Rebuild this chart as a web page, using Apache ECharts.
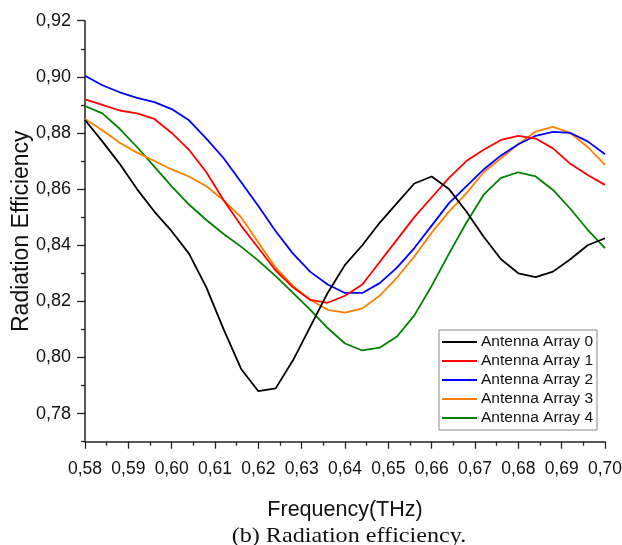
<!DOCTYPE html>
<html>
<head>
<meta charset="utf-8">
<script src="https://cdn.jsdelivr.net/npm/echarts@6/dist/echarts.min.js"></script>
<style>html,body{margin:0;padding:0;background:#fff}#c{width:622px;height:545px}</style>
</head>
<body>
<div id="c"></div>
<script>
var freq = [0.580,0.584,0.588,0.592,0.596,0.600,0.604,0.608,0.612,0.616,0.620,0.624,0.628,0.632,0.636,0.640,0.644,0.648,0.652,0.656,0.660,0.664,0.668,0.672,0.676,0.680,0.684,0.688,0.692,0.696,0.700];
var array0 = [0.8846,0.877,0.869,0.860,0.852,0.845,0.837,0.825,0.810,0.796,0.788,0.789,0.799,0.811,0.823,0.833,0.840,0.848,0.855,0.862,0.8645,0.860,0.852,0.843,0.835,0.830,0.8286,0.8306,0.835,0.840,0.8425];
var array1 = [0.892,0.890,0.888,0.887,0.885,0.880,0.874,0.866,0.856,0.847,0.839,0.831,0.825,0.8205,0.8195,0.822,0.826,0.834,0.842,0.850,0.857,0.864,0.870,0.874,0.8775,0.879,0.878,0.8745,0.869,0.865,0.8615];
var array2 = [0.9004,0.897,0.8945,0.8925,0.891,0.8885,0.8845,0.878,0.871,0.8625,0.854,0.845,0.837,0.8305,0.826,0.823,0.823,0.8265,0.832,0.839,0.847,0.855,0.861,0.867,0.872,0.876,0.879,0.8804,0.880,0.877,0.8724];
var array3 = [0.885,0.881,0.8765,0.873,0.870,0.867,0.8645,0.861,0.856,0.850,0.841,0.832,0.8255,0.8205,0.817,0.816,0.8175,0.822,0.8285,0.836,0.8445,0.852,0.8585,0.866,0.871,0.876,0.8805,0.8822,0.880,0.875,0.8686];
var array4 = [0.8896,0.887,0.8815,0.875,0.868,0.861,0.8545,0.849,0.844,0.8395,0.8345,0.829,0.823,0.817,0.8105,0.805,0.8025,0.8035,0.8075,0.815,0.8255,0.837,0.848,0.858,0.864,0.866,0.8645,0.8597,0.853,0.8455,0.839];
var seriesNames = ['Antenna Array 0','Antenna Array 1','Antenna Array 2','Antenna Array 3','Antenna Array 4'];
var seriesColors = ['#000000','#ff0000','#0000ff','#ff8000','#008000'];
var yMajorTicks = [0.78,0.80,0.82,0.84,0.86,0.88,0.90,0.92];
var yMinorTicks = [0.77,0.79,0.81,0.83,0.85,0.87,0.89,0.91];
var xTitle = 'Frequency(THz)';
var yTitle = 'Radiation Efficiency';
var caption = '(b) Radiation efficiency.';

var allData = [array0,array1,array2,array3,array4];
var chart = echarts.init(document.getElementById('c'), null, {renderer:'canvas'});
function fmt(v){ return Number(v).toFixed(2).replace('.', ','); }
var axisCol = '#222';
var font = 'Liberation Sans, Arial, sans-serif';
var series = allData.map(function(d, i){
  return {
    name: seriesNames[i], type: 'line', yAxisIndex: 0,
    data: d.map(function(v, j){ return [freq[j], v]; }),
    symbol: 'none', smooth: false,
    lineStyle: {color: seriesColors[i], width: 1.8},
    itemStyle: {color: seriesColors[i]},
    z: 10 - i
  };
});
chart.setOption({
  animation: false,
  backgroundColor: '#fff',
  grid: {left: 85, right: 17, top: 20.7, bottom: 103.3, containLabel: false, outerBoundsMode: 'none'},
  legend: {
    orient: 'vertical', left: 439, top: 330,
    icon: 'path://M0,0 L36,0 L36,2.2 L0,2.2 Z',
    itemWidth: 35, itemHeight: 14, itemGap: 3,
    padding: [4, 4, 4, 3],
    borderColor: '#888', borderWidth: 1,
    textStyle: {fontFamily: font, fontSize: 15.5, color: '#111', padding: [0,0,0,-1]},
    data: seriesNames
  },
  xAxis: {
    type: 'value', min: 0.58, max: 0.70, interval: 0.01,
    name: xTitle, nameLocation: 'middle', nameGap: 57,
    nameTextStyle: {fontFamily: font, fontSize: 21.5, color: '#111'},
    axisLine: {show: true, lineStyle: {color: axisCol, width: 1.5}},
    axisTick: {show: true, length: 7, lineStyle: {color: axisCol, width: 1.3}},
    minorTick: {show: true, splitNumber: 2, length: 4, lineStyle: {color: axisCol, width: 1.3}},
    axisLabel: {fontFamily: font, fontSize: 17.5, color: '#111', margin: 18, formatter: fmt},
    splitLine: {show: false}
  },
  yAxis: [{
    type: 'value', min: 0.77, max: 0.92, position: 'left',
    name: yTitle, nameLocation: 'middle', nameGap: 52, nameRotate: 90, nameMoveOverlap: false,
    nameTextStyle: {fontFamily: font, fontSize: 23, color: '#111'},
    axisLine: {show: true, lineStyle: {color: axisCol, width: 1.5}},
    axisTick: {show: true, length: 8, customValues: yMajorTicks, lineStyle: {color: axisCol, width: 1.3}},
    axisLabel: {fontFamily: font, fontSize: 18, color: '#111', margin: 14, customValues: yMajorTicks, formatter: fmt},
    splitLine: {show: false}
  }, {
    type: 'value', min: 0.77, max: 0.92, position: 'left',
    axisLine: {show: false},
    axisTick: {show: true, length: 4, customValues: yMinorTicks, lineStyle: {color: axisCol, width: 1.3}},
    axisLabel: {show: false},
    splitLine: {show: false}
  }],
  graphic: [{
    type: 'text', x: 349, y: 536, scaleX: 1.15,
    style: {text: caption, fontFamily: 'Liberation Serif, Times New Roman, serif', fontSize: 21, fill: '#111', align: 'center', verticalAlign: 'middle'}
  }],
  series: series
});
</script>
</body>
</html>
